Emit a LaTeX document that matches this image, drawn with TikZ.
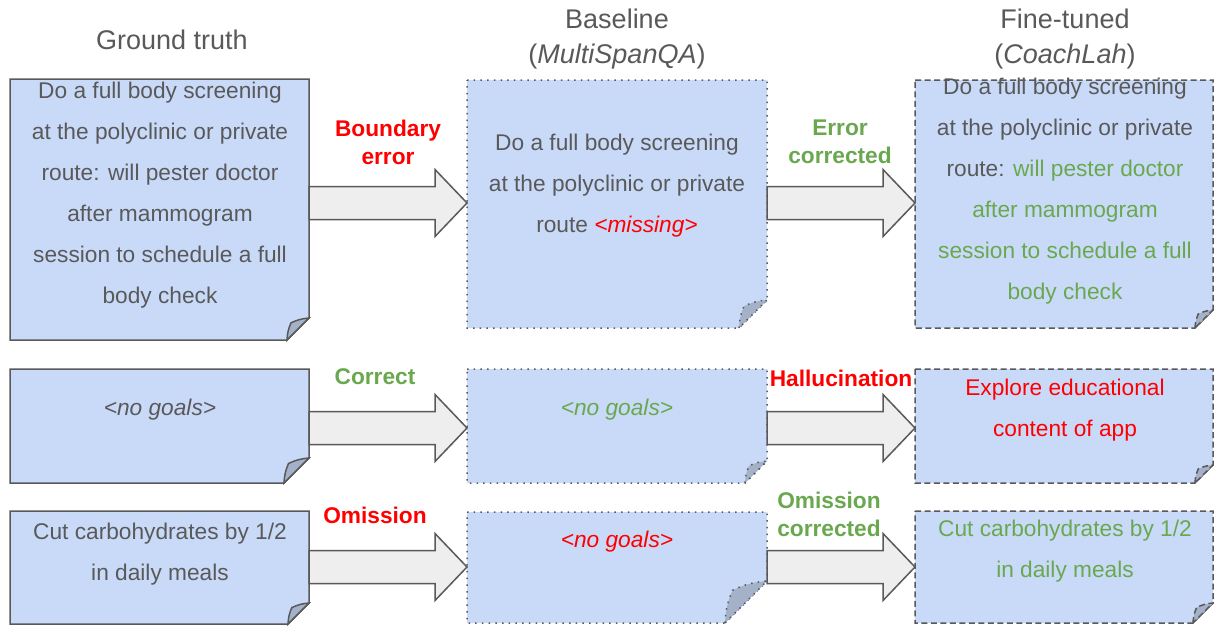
\documentclass[tikz,border=0pt]{standalone}
\usepackage{fontspec}
\setmainfont{Liberation Sans}
\usetikzlibrary{calc}
\definecolor{tgray}{HTML}{595959}
\definecolor{tgreen}{HTML}{6AA84F}
\definecolor{tred}{HTML}{FF0000}
\definecolor{boxfill}{HTML}{C9DAF8}
\definecolor{foldfill}{HTML}{A4B2C9}
\definecolor{arrowfill}{HTML}{EEEEEE}
\definecolor{edgegray}{HTML}{595959}
\newcommand\bodyfont{\fontsize{22.7}{41}\selectfont}
\newcommand\labfont{\fontsize{22.7}{28}\selectfont\bfseries}
\newcommand\titlefont{\fontsize{27}{35}\selectfont}
\tikzset{
  holder/.style={anchor=north west, inner sep=0pt, outer sep=0pt, draw=none},
  solidb/.style={draw=edgegray, line width=1.5pt, line join=miter},
  dotb/.style={draw=edgegray, line width=1.5pt, dash pattern=on 1.5pt off 5.2pt},
  dashb/.style={draw=edgegray, line width=1.5pt, dash pattern=on 6pt off 3.5pt},
  txt/.style={font=\bodyfont, text=tgray, align=center, inner sep=0pt},
  lab/.style={font=\labfont, align=center, inner sep=0pt},
  ttl/.style={font=\titlefont, text=tgray, align=center, inner sep=0pt},
  blockarr/.style={draw=edgegray, line width=1.5pt, fill=arrowfill, line join=miter}
}
% #1 node name, #2 border style, #3 fold size (pt)
\newcommand\notebox[3]{%
  \path[#2, fill=boxfill] let \p1=(#1.north west), \p2=(#1.south east) in
    (\x1,\y1) -- (\x2,\y1) -- (\x2,{\y2+#3pt}) -- ({\x2-#3pt},\y2) -- (\x1,\y2) -- cycle;
  \path[#2, fill=foldfill] let \p2=(#1.south east) in
    ({\x2-#3pt},\y2) to[bend left=10] ({\x2-0.82*#3pt},{\y2+0.78*#3pt}) to[bend left=10] (\x2,{\y2+#3pt}) -- cycle;
}
% #1 from node, #2 to node, #3 y of the arrow axis
\newcommand\blockarrow[3]{%
  \path[blockarr] let \p1=(#1.east), \p2=(#2.west), \p3=(0,#3) in
    (\x1,{\y3+16.5pt}) -- ({\x2-32pt},{\y3+16.5pt}) -- ({\x2-32pt},{\y3+33.5pt}) --
    (\x2,\y3) -- ({\x2-32pt},{\y3-33.5pt}) -- ({\x2-32pt},{\y3-16.5pt}) --
    (\x1,{\y3-16.5pt}) -- cycle;
}
\begin{document}
\begin{tikzpicture}[x=1pt,y=-1pt]
\useasboundingbox (0,0) rectangle (1214,626);
% box holders
\node[holder, minimum width=299pt, minimum height=261pt] (b11) at (10,79) {};
\node[holder, minimum width=300pt, minimum height=248pt] (b12) at (467,80) {};
\node[holder, minimum width=298pt, minimum height=248pt] (b13) at (915,80) {};
\node[holder, minimum width=299pt, minimum height=114pt] (b21) at (10,369) {};
\node[holder, minimum width=300pt, minimum height=114pt] (b22) at (467,369) {};
\node[holder, minimum width=298pt, minimum height=114pt] (b23) at (915,369) {};
\node[holder, minimum width=299pt, minimum height=113pt] (b31) at (10,511) {};
\node[holder, minimum width=300pt, minimum height=111pt] (b32) at (467,512) {};
\node[holder, minimum width=298pt, minimum height=112pt] (b33) at (915,511) {};
% boxes
\notebox{b11}{solidb}{22}
\notebox{b12}{dotb}{28}
\notebox{b13}{dashb}{18}
\notebox{b21}{solidb}{25}
\notebox{b22}{dotb}{22}
\notebox{b23}{dashb}{18}
\notebox{b31}{solidb}{21}
\notebox{b32}{dotb}{42}
\notebox{b33}{dashb}{20}
% arrows
\blockarrow{b11}{b12}{203}
\blockarrow{b12}{b13}{203}
\blockarrow{b21}{b22}{428}
\blockarrow{b22}{b23}{428}
\blockarrow{b31}{b32}{567}
\blockarrow{b32}{b33}{567}
% titles
\node[ttl] (h1) at (172,40) {Ground truth};
\node[ttl] (h2) at (617,39.5) {Baseline\\(\textit{MultiSpanQA})};
\node[ttl] (h3) at (1065,39.5) {Fine-tuned\\(\textit{CoachLah})};
% texts
\node[txt] (t11) at (160,195.5) {Do a full body screening\\at the polyclinic or private\\route: will pester doctor\\after mammogram\\session to schedule a full\\body check};
\node[txt] (t12) at (617,185.5) {Do a full body screening\\at the polyclinic or private\\route \textcolor{tred}{\textit{<missing>}}};
\node[txt] (t13) at (1065,191.5) {Do a full body screening\\at the polyclinic or private\\route: \textcolor{tgreen}{will pester doctor}\\\textcolor{tgreen}{after mammogram}\\\textcolor{tgreen}{session to schedule a full}\\\textcolor{tgreen}{body check}};
\node[txt] (t21) at (160,410) {\textit{<no goals>}};
\node[txt, text=tgreen] (t22) at (617,410) {\textit{<no goals>}};
\node[txt, text=tred] (t23) at (1065,410) {Explore educational\\content of app};
\node[txt] (t31) at (160,554) {Cut carbohydrates by 1/2\\in daily meals};
\node[txt, text=tred] (t32) at (617,542) {\textit{<no goals>}};
\node[txt, text=tgreen] (t33) at (1065,551) {Cut carbohydrates by 1/2\\in daily meals};
% arrow labels
\node[lab, text=tred] (l11) at (388,142) {Boundary\\error};
\node[lab, text=tgreen] (l12) at (840,142) {Error\\corrected};
\node[lab, text=tgreen] (l21) at (375,377) {Correct};
\node[lab, text=tred] (l22) at (841,378) {Hallucination};
\node[lab, text=tred] (l31) at (375,515) {Omission};
\node[lab, text=tgreen] (l32) at (829,514) {Omission\\corrected};
\end{tikzpicture}
\end{document}
